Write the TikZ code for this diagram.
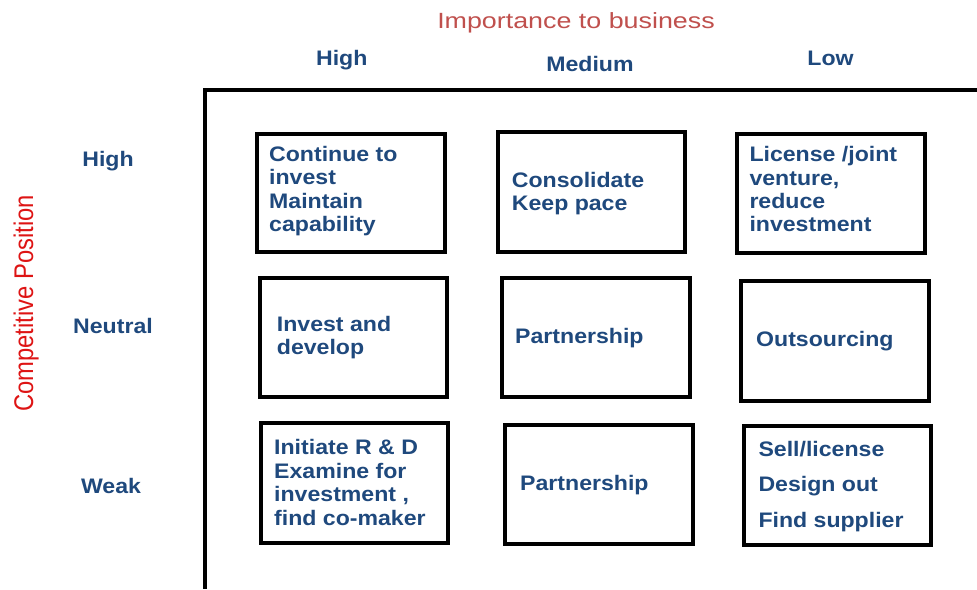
\documentclass[tikz,border=0pt]{standalone}
\usepackage{fontspec}
\setmainfont{Liberation Sans}
\newfontfamily\cellfont{Liberation Sans}[FakeStretch=1.1]
\newfontfamily\titlefont{Liberation Sans}[FakeStretch=1.22]
\newfontfamily\vertfont{Liberation Sans}[FakeStretch=0.88]
\definecolor{txtblue}{RGB}{31,73,125}
\definecolor{titlered}{RGB}{192,80,77}
\definecolor{axisred}{RGB}{222,20,20}
\begin{document}
\begin{tikzpicture}[x=1pt,y=-1pt,
  cellbox/.style={draw=black,line width=4pt,minimum width=187.5pt,minimum height=119pt,inner sep=0pt},
  celltxt/.style={anchor=base west,inner sep=0pt,text=txtblue,font=\cellfont\bfseries\fontsize{21}{23.5}\selectfont},
  hdr/.style={anchor=base,inner sep=0pt,text=txtblue,font=\cellfont\bfseries\fontsize{21}{23.5}\selectfont}]
\useasboundingbox (0,0) rectangle (977,589);
\fill[white] (0,0) rectangle (977,589);
% frame
\coordinate (fr) at (977,90);
\coordinate (fc) at (205,90);
\coordinate (fb) at (205,589);
\draw[line width=4pt] (fr) -- (fc) -- (fb);
% axis titles
\node[anchor=base,inner sep=0pt,text=titlered,font=\titlefont\fontsize{22}{24}\selectfont] (title) at (576,28) {Importance to business};
\node[anchor=base,inner sep=0pt,rotate=90,text=axisred,font=\vertfont\fontsize{27}{29}\selectfont] (vtitle) at (33,303.5) {Competitive Position};
% column headers
\node[hdr] (ch1) at (341.8,65) {High};
\node[hdr] (ch2) at (590,71.7) {Medium};
\node[hdr] (ch3) at (830.5,65) {Low};
% row headers
\node[hdr] (rh1) at (108,166) {High};
\node[hdr] (rh2) at (113,333.3) {Neutral};
\node[hdr] (rh3) at (111,493.3) {Weak};
% boxes
\node[cellbox,minimum height=118pt] (b1) at (350.75,193) {};
\node[cellbox,minimum width=187pt,minimum height=120pt] (b2) at (591.5,192) {};
\node[cellbox] (b3) at (830.75,193.5) {};
\node[cellbox] (b4) at (353.25,337.5) {};
\node[cellbox,minimum width=188pt] (b5) at (596,337.5) {};
\node[cellbox,minimum width=188pt,minimum height=120pt] (b6) at (834.5,340.5) {};
\node[cellbox,minimum height=120pt] (b7) at (354.25,483) {};
\node[cellbox,minimum width=188pt] (b8) at (599,484.5) {};
\node[cellbox,minimum width=187pt,minimum height=118.5pt] (b9) at (837.5,485.25) {};
% box texts
\node[celltxt] (t1a) at (269,161) {Continue to};
\node[celltxt] (t1b) at (269,184.5) {invest};
\node[celltxt] (t1c) at (269,208) {Maintain};
\node[celltxt] (t1d) at (269,231.5) {capability};
\node[celltxt] (t2a) at (511.7,187.3) {Consolidate};
\node[celltxt] (t2b) at (511.7,210.7) {Keep pace};
\node[celltxt] (t3a) at (749.3,161.7) {License /joint};
\node[celltxt] (t3b) at (749.3,185) {venture,};
\node[celltxt] (t3c) at (749.3,208.3) {reduce};
\node[celltxt] (t3d) at (749.3,231.7) {investment};
\node[celltxt] (t4a) at (276.7,331) {Invest and};
\node[celltxt] (t4b) at (276.7,354.3) {develop};
\node[celltxt] (t5a) at (515,343.3) {Partnership};
\node[celltxt] (t6a) at (756,346) {Outsourcing};
\node[celltxt] (t7a) at (274,454.3) {Initiate R \& D};
\node[celltxt] (t7b) at (274,478.3) {Examine for};
\node[celltxt] (t7c) at (274,501.7) {investment ,};
\node[celltxt] (t7d) at (274,525) {find co-maker};
\node[celltxt] (t8a) at (520,490) {Partnership};
\node[celltxt] (t9a) at (758.3,456.7) {Sell/license};
\node[celltxt] (t9b) at (758.3,491.7) {Design out};
\node[celltxt] (t9c) at (758.3,527.3) {Find supplier};
\end{tikzpicture}
\end{document}
